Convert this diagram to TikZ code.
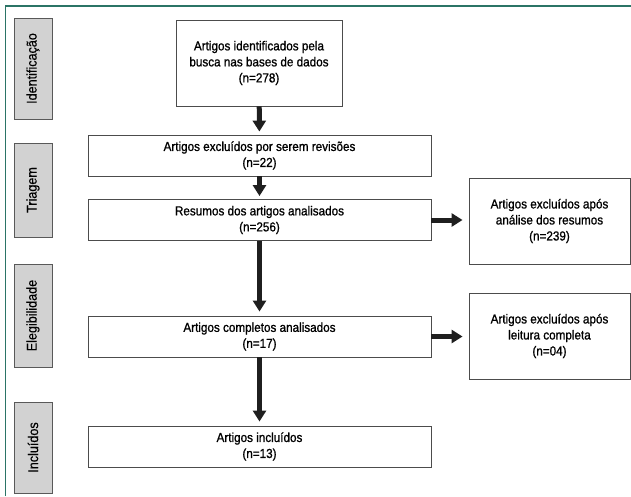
\documentclass[tikz,border=0pt]{standalone}
\usepackage{fontspec}
\setmainfont{Liberation Sans}[FakeStretch=0.9,FakeBold=1]
\newfontfamily\sidefont{Liberation Sans}[FakeStretch=0.9,FakeBold=0.4]
\usetikzlibrary{arrows.meta}
\usetikzlibrary{positioning}

\definecolor{framegreen}{HTML}{2B7466}
\definecolor{sidegray}{HTML}{D2D2D2}

\begin{document}
\begin{tikzpicture}
  [x=1pt,y=-1pt,
   step box/.style={rectangle,draw=black!70,line width=0.9pt,align=center,inner sep=2pt,
     font=\fontsize{13}{16}\selectfont},
   main box/.style={step box,minimum width=343pt,minimum height=41pt},
   side box/.style={rectangle,fill=sidegray,draw=black!65,line width=0.9pt,rotate=90,
     minimum height=38pt,inner sep=0pt,font=\sidefont\fontsize{14}{16}\selectfont},
   big arrow/.style={line width=5pt,color=black!88,-{Triangle[width=13pt,length=11pt]}}]
  \useasboundingbox (0,0) rectangle (631,496);
  % frame
  \draw[framegreen,line width=1.5pt] (5.5,496) -- (5.5,6) -- (631,6);

  % phases
  \node[side box,minimum width=101pt] (Identificacao) at (33,68.5)  {Identificação};
  \node[side box,minimum width=94pt]  (Triagem)       at (33,190)   {Triagem};
  \node[side box,minimum width=103pt] (Elegibilidade) at (33,315.5) {Elegibilidade};
  \node[side box,minimum width=91pt]  (Incluidos)     at (33,447.5) {Incluídos};

  % main flow
  \node[step box,minimum width=166pt,minimum height=86pt] (Busca) at (259,63)
    {Artigos identificados pela\\busca nas bases de dados\\(n=278)};
  \node[main box] (Revisoes)  at (259.5,155.5) {Artigos excluídos por serem revisões\\(n=22)};
  \node[main box] (Resumos)   at (259.5,220)   {Resumos dos artigos analisados\\(n=256)};
  \node[main box] (Completos) at (259.5,336.5) {Artigos completos analisados\\(n=17)};
  \node[main box] (Incluidos2) at (259.5,446.5) {Artigos incluídos\\(n=13)};

  % exclusions
  \node[step box,minimum width=161pt,minimum height=86pt] (ExclResumos) at (549.5,221)
    {Artigos excluídos após\\análise dos resumos\\(n=239)};
  \node[step box,minimum width=161pt,minimum height=86pt] (ExclLeitura) at (549.5,336)
    {Artigos excluídos após\\leitura completa\\(n=04)};

  \path[big arrow]
    (Busca) edge[shorten >=3pt] (Revisoes)
    (Revisoes) edge[shorten >=3pt] (Resumos)
    (Resumos) edge[shorten >=4pt] (Completos)
    (Completos) edge[shorten >=4pt] (Incluidos2)
    (Resumos.east) edge[shorten >=6pt] (Resumos.east -| ExclResumos.west)
    (Completos.east) edge[shorten >=6pt] (Completos.east -| ExclLeitura.west);
\end{tikzpicture}
\end{document}
